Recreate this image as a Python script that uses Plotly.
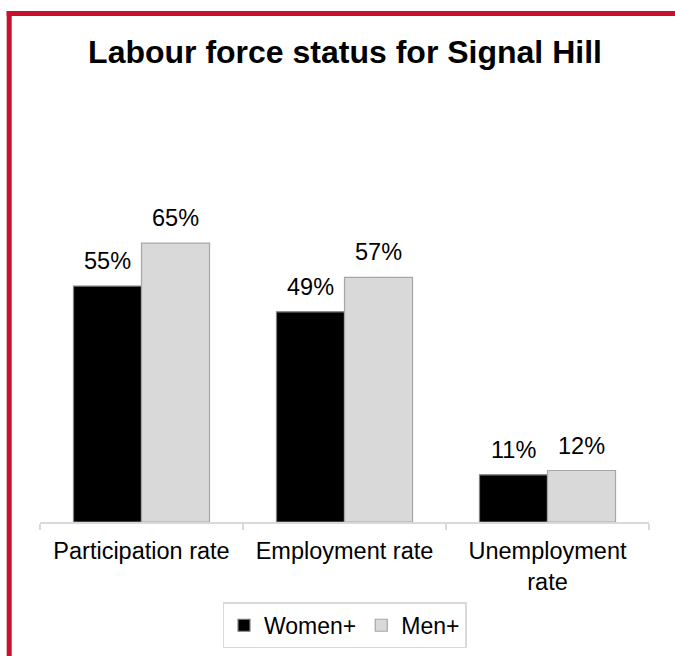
import plotly.graph_objects as go

categories = ["Participation rate", "Employment rate", "Unemployment<br>rate"]
women = [55, 49, 11]
men = [65, 57, 12]
series_names = ["Women+", "Men+"]
labels_women = ["55%", "49%", "11%"]
labels_men = ["65%", "57%", "12%"]

W, H = 675, 656
ML, MR, MT, MB = 40, 26, 92.7, 134.3
PW, PH = W - ML - MR, H - MT - MB

def px_x(px):
    return (px - ML) / PW

def px_y(py):
    return (H - MB - py) / PH

FONT = "Arial, Liberation Sans, sans-serif"

fig = go.Figure()
fig.add_trace(go.Bar(x=categories, y=women, name=series_names[0],
                     marker=dict(color="#000000", line=dict(color="#7F7F7F", width=1.2))))
fig.add_trace(go.Bar(x=categories, y=men, name=series_names[1],
                     marker=dict(color="#D9D9D9", line=dict(color="#A6A6A6", width=1.2))))

annotations = []
for c, v, t in zip(categories, women, labels_women):
    annotations.append(dict(x=c, y=v, text=t, showarrow=False, xshift=-34, yshift=10,
                            yanchor="bottom", font=dict(size=23.5, color="#000000", family=FONT)))
for c, v, t in zip(categories, men, labels_men):
    annotations.append(dict(x=c, y=v, text=t, showarrow=False, xshift=34, yshift=10,
                            yanchor="bottom", font=dict(size=23.5, color="#000000", family=FONT)))

RED = "#C8102E"
shapes = [
    dict(type="line", xref="paper", yref="paper", x0=px_x(9.2), x1=px_x(9.2),
         y0=px_y(10.8), y1=px_y(H + 5), line=dict(color=RED, width=5)),
    dict(type="line", xref="paper", yref="paper", x0=px_x(6.7), x1=px_x(W + 5),
         y0=px_y(13.3), y1=px_y(13.3), line=dict(color=RED, width=5)),
]

fig.update_layout(
    width=W, height=H,
    margin=dict(l=ML, r=MR, t=MT, b=MB, autoexpand=False),
    paper_bgcolor="white", plot_bgcolor="white",
    font=dict(family=FONT, color="#000000", size=23.5),
    title=dict(text="<b>Labour force status for Signal Hill</b>", x=345 / W, xanchor="center",
               y=1 - 52 / H, yanchor="middle", font=dict(size=32, color="#000000", family=FONT)),
    barmode="group", bargap=0.33, bargroupgap=0,
    showlegend=True,
    legend=dict(orientation="h", x=0.5, xanchor="center", y=px_y(602), yanchor="top",
                bordercolor="#D9D9D9", borderwidth=1.5, font=dict(size=23, color="#000000"),
                traceorder="normal"),
    xaxis=dict(showline=True, linecolor="#D9D9D9", linewidth=1.5, ticks="outside",
               tickson="boundaries", ticklen=6, tickcolor="#D9D9D9", tickwidth=1.5,
               ticklabelstandoff=7, automargin=False,
               tickfont=dict(size=23.5, color="#000000"), showgrid=False),
    yaxis=dict(range=[0, 100], visible=False, showgrid=False, zeroline=False, automargin=False),
    annotations=annotations,
    shapes=shapes,
)

fig.write_html("out.html", config={"displayModeBar": False},
               post_script="document.body.style.margin='0px';")
